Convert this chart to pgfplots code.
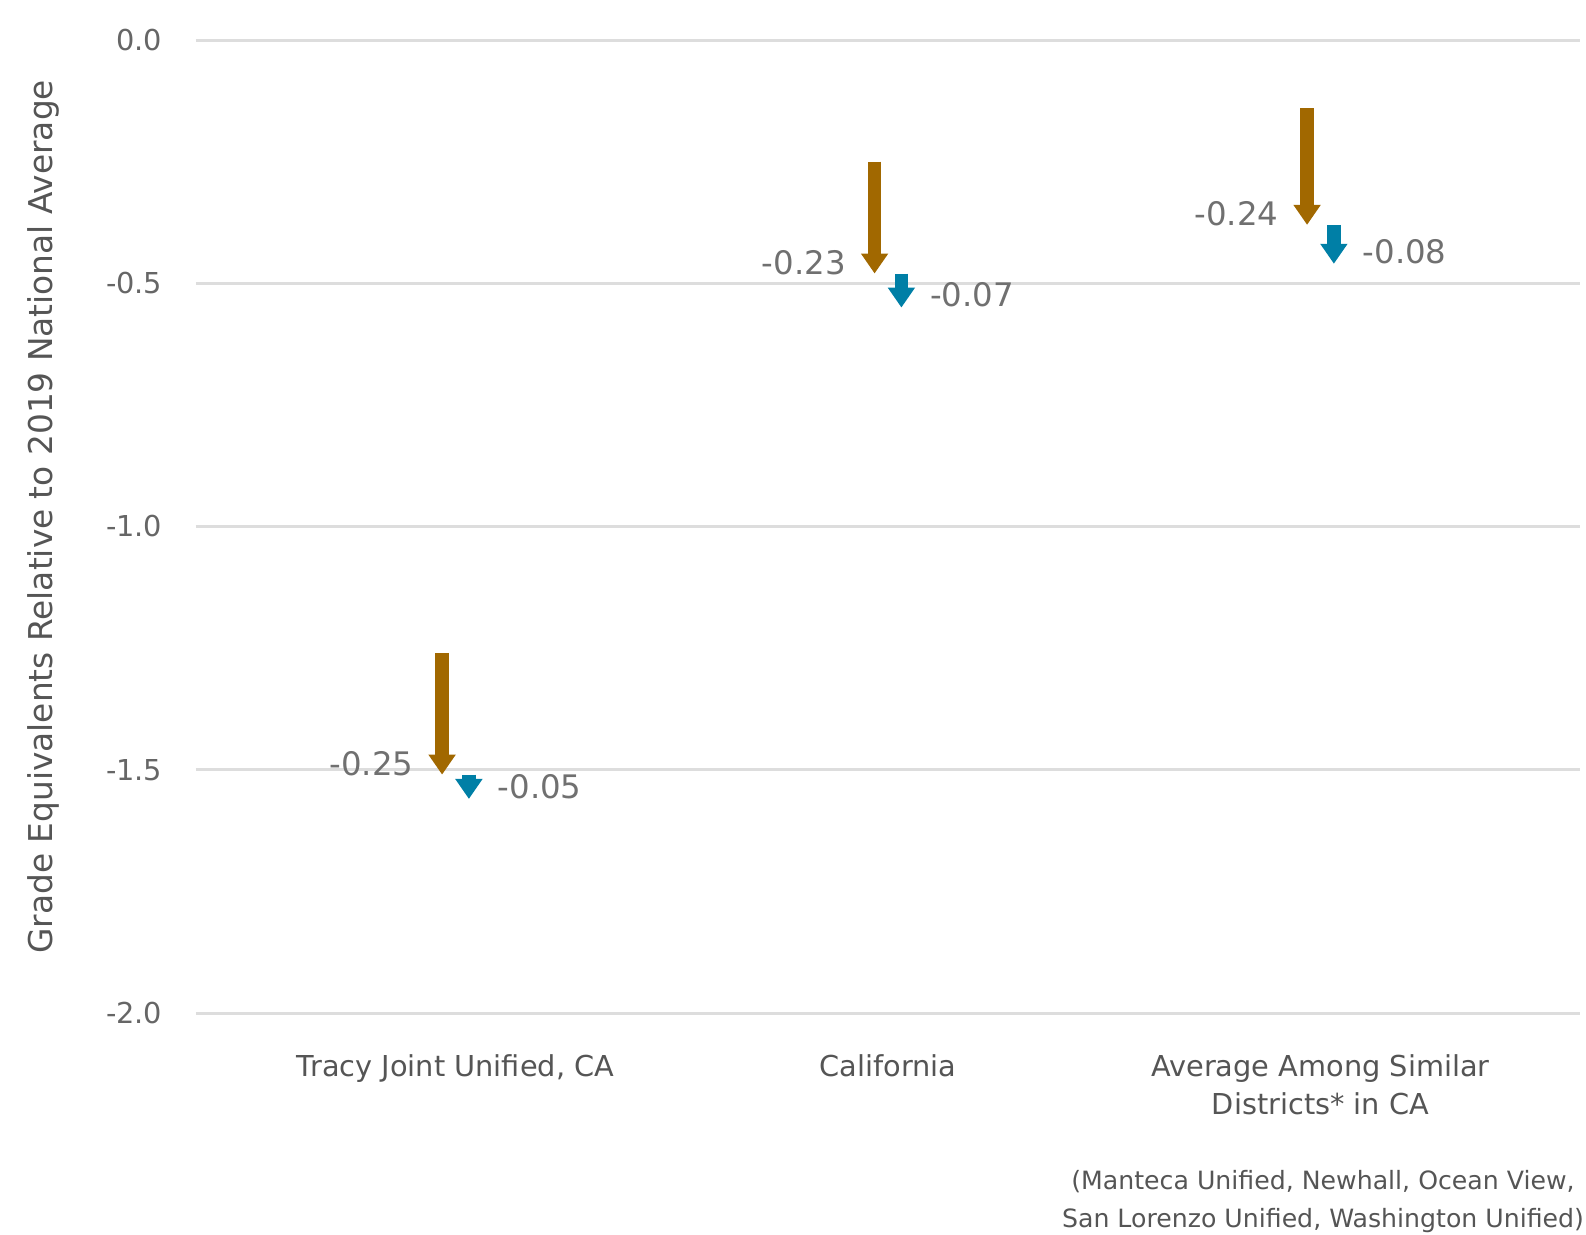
\documentclass[border=0pt]{standalone}
\usepackage{fontspec}
\setmainfont{DejaVu Sans}
\usepackage{pgfplots}
\pgfplotsset{compat=1.18}
\usetikzlibrary{arrows.meta}
\definecolor{arrbrown}{RGB}{161,104,0}
\definecolor{arrblue}{RGB}{0,127,166}
\definecolor{gridc}{RGB}{221,221,221}
\definecolor{tickc}{RGB}{102,102,102}
\definecolor{labc}{RGB}{112,112,112}
\definecolor{catc}{RGB}{85,85,85}
\begin{document}
\begin{tikzpicture}
\useasboundingbox (-49pt,-55.25pt) rectangle (347.5pt,253.25pt);
\begin{axis}[
  at={(0,0)}, anchor=south west,
  scale only axis, width=346pt, height=243.25pt,
  xmin=-0.6, xmax=2.6, ymin=-2, ymax=0,
  axis line style={draw=none}, tick style={draw=none},
  ytick={-2,-1.5,-1,-0.5,0}, yticklabels={-2.0,-1.5,-1.0,-0.5,0.0},
  yticklabel style={inner sep=0pt, xshift=-8.25pt, font=\fontsize{7.2}{8}\selectfont, text=tickc},
  xtick={0,1,2},
  xticklabels={{Tracy Joint Unified, CA},{California},{Average Among Similar\\Districts* in CA}},
  xticklabel style={align=center, inner sep=0pt, yshift=-10.25pt, font=\fontsize{7.2}{9.5}\selectfont, text=catc},
  ymajorgrids, grid style={gridc, line width=0.75pt},
  ylabel={Grade Equivalents Relative to 2019 National Average},
  ylabel style={at={(axis description cs:-0.104,0.51)}, anchor=base, font=\fontsize{8.2}{10}\selectfont, text=catc},
  clip=false,
]
\addplot[arrbrown, line width=3.4pt, -{Triangle[length=5pt 0 0, width=6.5pt 0 0]},
  quiver={u=0, v=\thisrow{dy}}] table {
x y dy
-0.031 -1.26 -0.25
0.969 -0.25 -0.23
1.969 -0.14 -0.24
};
\addplot[arrblue, line width=3.4pt, -{Triangle[length=5pt 0 0, width=6.5pt 0 0]},
  quiver={u=0, v=\thisrow{dy}}] table {
x y dy
0.031 -1.51 -0.05
1.031 -0.48 -0.07
2.031 -0.38 -0.08
};
\addplot[draw=none, mark=none, nodes near coords, point meta=explicit symbolic,
  every node near coord/.append style={anchor=east, inner sep=0pt, xshift=-7pt, yshift=2.75pt, font=\fontsize{8.1}{9}\selectfont, text=labc}]
  table[meta=lab] {
x y lab
-0.031 -1.51 -0.25
0.969 -0.48 -0.23
1.969 -0.38 -0.24
};
\addplot[draw=none, mark=none, nodes near coords, point meta=explicit symbolic,
  every node near coord/.append style={anchor=west, inner sep=0pt, xshift=7pt, yshift=3.1pt, font=\fontsize{8.1}{9}\selectfont, text=labc}]
  table[meta=lab] {
x y lab
0.031 -1.56 -0.05
1.031 -0.55 -0.07
2.031 -0.46 -0.08
};
\end{axis}
\node[anchor=base, inner sep=0pt, font=\fontsize{6.3}{7}\selectfont, text=catc] at (281.75pt,-44pt) {(Manteca Unified, Newhall, Ocean View,};
\node[anchor=base, inner sep=0pt, font=\fontsize{6.3}{7}\selectfont, text=catc] at (281.75pt,-53.6pt) {San Lorenzo Unified, Washington Unified)};
\end{tikzpicture}
\end{document}
